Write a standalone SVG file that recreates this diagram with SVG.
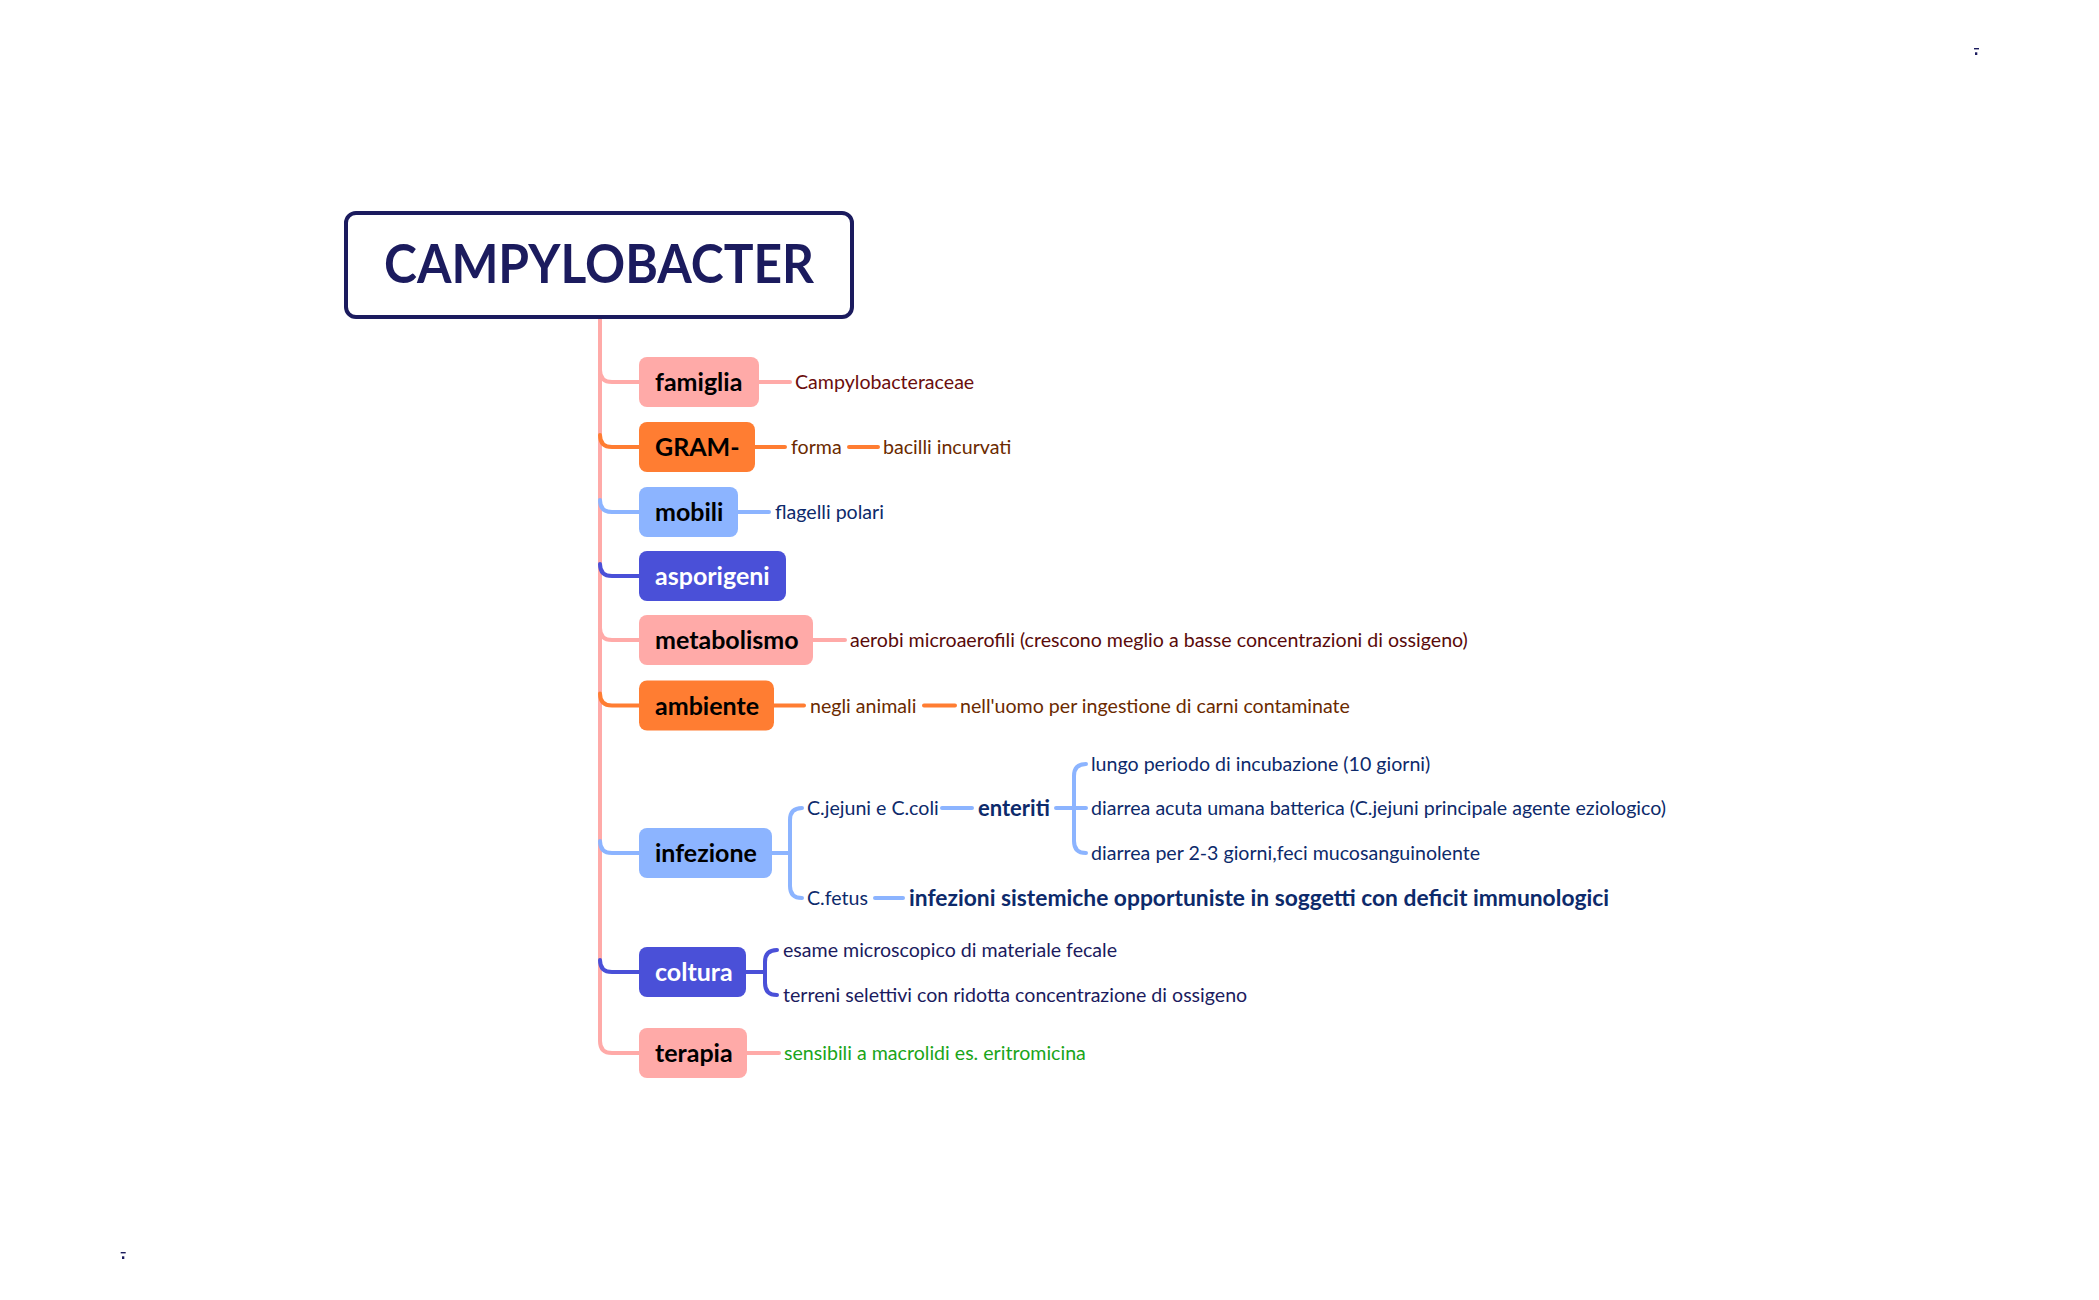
<svg xmlns="http://www.w3.org/2000/svg" width="2099" height="1300" viewBox="0 0 2099 1300">
<style>
.nt{font-family:Lato,"Noto Sans","Liberation Sans",sans-serif;font-weight:700;font-size:25px;fill:#000}
.nw{fill:#fff}
.lt{font-family:Lato,"Noto Sans","Liberation Sans",sans-serif;font-size:19.6px}
.lb{font-family:Lato,"Noto Sans","Liberation Sans",sans-serif;font-weight:700}
.c{fill:none;stroke-width:4;stroke-linecap:round;stroke-linejoin:round}
.pk{stroke:#ffaaa8}.or{stroke:#ff7d32}.lbl{stroke:#8cb4ff}.ind{stroke:#4a50d8}
.fpk{fill:#ffaaa8}.for{fill:#ff7d32}.flb{fill:#8cb4ff}.find{fill:#4a50d8}
</style>
<rect width="2099" height="1300" fill="#fff"/>
<g id="connectors">
<path class="c pk" d="M600,319 V1041 Q600,1053 612,1053 H639"/>
<path class="c pk" d="M600,370 Q600,382 612,382 H639"/>
<path class="c or" d="M600,435 Q600,447 612,447 H639"/>
<path class="c lbl" d="M600,500 Q600,512 612,512 H639"/>
<path class="c ind" d="M600,564 Q600,576 612,576 H639"/>
<path class="c pk" d="M600,628 Q600,640 612,640 H639"/>
<path class="c or" d="M600,693.5 Q600,705.5 612,705.5 H639"/>
<path class="c lbl" d="M600,841 Q600,853 612,853 H639"/>
<path class="c ind" d="M600,960 Q600,972 612,972 H639"/>
<path class="c pk" d="M759,382 H790"/>
<path class="c or" d="M755,447 H785 M849,447 H878"/>
<path class="c lbl" d="M738,512 H769"/>
<path class="c pk" d="M813,640 H845"/>
<path class="c or" d="M773,705.5 H804 M924,705.5 H955"/>
<path class="c lbl" d="M771,853 H790 M802,808 Q790,808 790,820 V886 Q790,898 802,898"/>
<path class="c lbl" d="M942,808 H972 M1056,808 H1086 M1086,764 Q1074,764 1074,776 V841 Q1074,853 1086,853"/>
<path class="c lbl" d="M875,898 H903"/>
<path class="c ind" d="M746,972 H765 M777,950 Q765,950 765,962 V983 Q765,995 777,995"/>
<path class="c pk" d="M747,1053 H779"/>
</g>
<g id="root">
<rect x="346" y="213" width="506" height="104" rx="10" fill="#fff" stroke="#1b1b5e" stroke-width="4"/>
<text x="599" y="283" text-anchor="middle" class="lb" font-size="54" fill="#1b1b5e" textLength="430" lengthAdjust="spacingAndGlyphs">CAMPYLOBACTER</text>
</g>
<g id="famiglia">
<rect x="639" y="357" width="120" height="50" rx="8" class="fpk"/>
<text x="655" y="391" class="nt">famiglia</text>
<text x="795" y="389" class="lt" fill="#6b0d0d">Campylobacteraceae</text>
</g>
<g id="gram">
<rect x="639" y="422" width="116" height="50" rx="8" class="for"/>
<text x="655" y="456" class="nt">GRAM-</text>
<text x="791" y="454" class="lt" fill="#6b2a00">forma</text>
<text x="883" y="454" class="lt" fill="#6b2a00">bacilli incurvati</text>
</g>
<g id="mobili">
<rect x="639" y="487" width="99" height="50" rx="8" class="flb"/>
<text x="655" y="521" class="nt">mobili</text>
<text x="775" y="519" class="lt" fill="#0d2a6b">flagelli polari</text>
</g>
<g id="asporigeni">
<rect x="639" y="551" width="147" height="50" rx="8" class="find"/>
<text x="655" y="585" class="nt nw">asporigeni</text>
</g>
<g id="metabolismo">
<rect x="639" y="615" width="174" height="50" rx="8" class="fpk"/>
<text x="655" y="649" class="nt">metabolismo</text>
<text x="850" y="647" class="lt" fill="#5a0a0a">aerobi microaerofili (crescono meglio a basse concentrazioni di ossigeno)</text>
</g>
<g id="ambiente">
<rect x="639" y="680.5" width="135" height="50" rx="8" class="for"/>
<text x="655" y="714.5" class="nt">ambiente</text>
<text x="810" y="712.5" class="lt" fill="#6b2a00">negli animali</text>
<text x="960" y="712.5" class="lt" fill="#6b2a00">nell'uomo per ingestione di carni contaminate</text>
</g>
<g id="infezione">
<rect x="639" y="828" width="133" height="50" rx="8" class="flb"/>
<text x="655" y="862" class="nt">infezione</text>
<text x="807" y="815" class="lt" fill="#0d2a6b">C.jejuni e C.coli</text>
<text x="978" y="815.5" class="lb" font-size="22" fill="#0d2a6b">enteriti</text>
<text x="1091" y="771" class="lt" fill="#0d2a6b">lungo periodo di incubazione (10 giorni)</text>
<text x="1091" y="815" class="lt" fill="#0d2a6b">diarrea acuta umana batterica (C.jejuni principale agente eziologico)</text>
<text x="1091" y="860" class="lt" fill="#0d2a6b">diarrea per 2-3 giorni,feci mucosanguinolente</text>
<text x="807" y="905" class="lt" fill="#0d2a6b">C.fetus</text>
<text x="909" y="906" class="lb" font-size="22.8" fill="#0d2a6b">infezioni sistemiche opportuniste in soggetti con deficit immunologici</text>
</g>
<g id="coltura">
<rect x="639" y="947" width="107" height="50" rx="8" class="find"/>
<text x="655" y="981" class="nt nw">coltura</text>
<text x="783" y="957" class="lt" fill="#1b1b5e">esame microscopico di materiale fecale</text>
<text x="783" y="1002" class="lt" fill="#1b1b5e">terreni selettivi con ridotta concentrazione di ossigeno</text>
</g>
<g id="terapia">
<rect x="639" y="1028" width="108" height="50" rx="8" class="fpk"/>
<text x="655" y="1062" class="nt">terapia</text>
<text x="784" y="1060" class="lt" fill="#1aa51a">sensibili a macrolidi es. eritromicina</text>
</g>
<g id="marks" fill="#1b1b5e">
<rect x="1974" y="48" width="5" height="1.4"/>
<rect x="1975" y="52.3" width="2.3" height="2.7"/>
<rect x="120.7" y="1252" width="5" height="1.4"/>
<rect x="122" y="1256.3" width="2.3" height="2.7"/>
</g>
</svg>
